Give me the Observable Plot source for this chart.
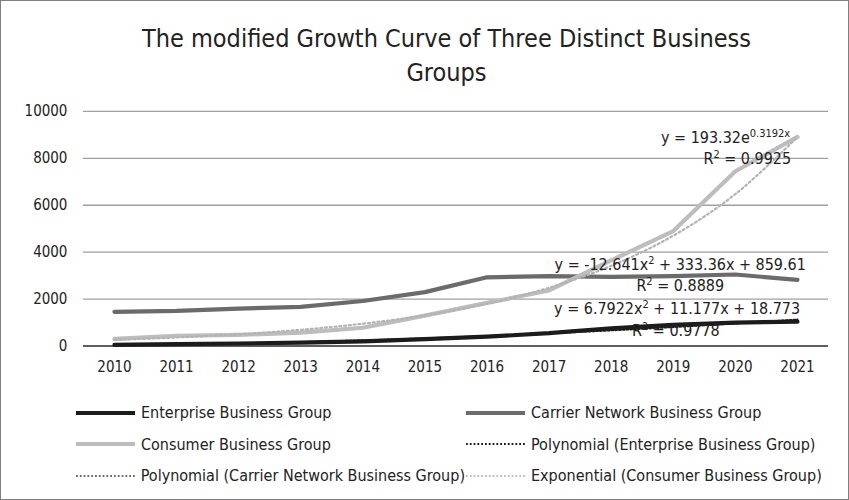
<!DOCTYPE html>
<html><head><meta charset="utf-8">
<script src="https://cdn.jsdelivr.net/npm/d3@7"></script>
<script src="https://cdn.jsdelivr.net/npm/@observablehq/plot@0.6"></script>
<style>
body{margin:0;background:#fff;}
#wrap{position:relative;width:849px;height:500px;box-sizing:border-box;border:1px solid #7f7f7f;font-family:"Liberation Sans Narrow","DejaVu Sans Condensed",Lato,sans-serif;overflow:hidden;background:#fff}
#title{position:absolute;left:22px;top:21px;width:847px;text-align:center;font-size:25px;line-height:34px;color:#222}
#chart{position:absolute;left:-1px;top:-1px}
#legend{position:absolute;left:74px;top:396px;display:grid;grid-template-columns:390px auto;grid-auto-rows:31.5px;font-size:16px;color:#222}
.item{display:flex;align-items:center;white-space:nowrap}
.item svg{margin-right:5px}
</style></head>
<body>
<div id="wrap">
  <div id="title">The modified Growth Curve of Three Distinct Business<br>Groups</div>
  <div id="chart"></div>
  <div id="legend"></div>
</div>
<script>
const years = [2010,2011,2012,2013,2014,2015,2016,2017,2018,2019,2020,2021];
const enterprise = [50,80,110,150,200,300,400,550,760,900,1000,1040];
const carrier = [1460,1500,1600,1670,1920,2300,2930,2980,2950,2980,3050,2820];
const consumer = [310,440,480,570,780,1300,1840,2370,3650,4900,7450,8910];
const yTicks = [0,2000,4000,6000,8000,10000];

// trendline coefficients as shown in the chart's equations (x = 1..12)
const polyEnterprise = [18.773, 11.177, 6.7922];
const polyCarrier = [859.61, 333.36, -12.641];
const expConsumer = [193.32, 0.3192];

const seriesNames = ["Enterprise Business Group","Carrier Network Business Group","Consumer Business Group"];
const seriesColors = ["#1c1c1c","#6b6b6b","#bdbdbd"];

const annYears = [2019.85, 2020.2, 2019.12, 2019.12, 2019.07, 2019.05];
const annValues = [8850, 7960, 3450, 2555, 1575, 640];
const annTexts = [
  [["y = 193.32e",0],["0.3192x",1]],
  [["R",0],["2",1],[" = 0.9925",0]],
  [["y = -12.641x",0],["2",1],[" + 333.36x + 859.61",0]],
  [["R",0],["2",1],[" = 0.8889",0]],
  [["y = 6.7922x",0],["2",1],[" + 11.177x + 18.773",0]],
  [["R",0],["2",1],[" = 0.9778",0]]
];

const long = [];
[enterprise, carrier, consumer].forEach((arr, i) =>
  arr.forEach((v, j) => long.push({series: seriesNames[i], year: years[j], value: v})));

const trendEnt = years.map((y, j) => {
  const x = j + 1;
  return {year: y, value: polyEnterprise[0] + polyEnterprise[1]*x + polyEnterprise[2]*x*x};
});
const trendCons = years.map((y, j) => {
  const x = j + 1;
  return {year: y, value: expConsumer[0] * Math.exp(expConsumer[1]*x)};
});

const font = "'Liberation Sans Narrow','DejaVu Sans Condensed',Lato,sans-serif";
const plot = Plot.plot({
  width: 849, height: 381,
  marginTop: 111, marginBottom: 35, marginLeft: 83, marginRight: 20,
  style: {fontFamily: font, fontSize: "15px", color: "#222", background: "transparent"},
  x: {domain: [2009.5, 2021.5], ticks: years, tickFormat: "d", tickSize: 0, tickPadding: 15, label: null},
  y: {domain: [0, 10000], ticks: yTicks, tickFormat: "d", tickSize: 0, tickPadding: 16, label: null},
  marks: [
    Plot.ruleY(yTicks.filter(d => d > 0), {stroke: "#a0a0a0", strokeWidth: 1.3}),
    Plot.ruleY([0], {stroke: "#2a2a2a", strokeWidth: 1.5}),
    Plot.lineY(long, {x: "year", y: "value", z: "series",
      stroke: d => seriesColors[seriesNames.indexOf(d.series)],
      strokeWidth: 4.2, strokeLinecap: "round", strokeLinejoin: "round", curve: "linear"}),
    Plot.lineY(trendEnt, {x: "year", y: "value", stroke: "#1c1c1c", strokeWidth: 2, strokeDasharray: "1.8,2", curve: "catmull-rom"}),
    Plot.lineY(trendCons, {x: "year", y: "value", stroke: "#b3b3b3", strokeWidth: 2.2, strokeDasharray: "2,2.8", curve: "catmull-rom"})
  ]
});
document.getElementById("chart").appendChild(plot);

// trendline equation labels, placed through the plot's own scales
const sx = plot.scale("x"), sy = plot.scale("y");
const g = d3.select(plot).append("g").attr("font-family", font).attr("font-size", 16).attr("fill", "#222");
annTexts.forEach((parts, i) => {
  const t = g.append("text")
    .attr("x", sx.apply(annYears[i]))
    .attr("y", sy.apply(annValues[i]))
    .attr("text-anchor", "middle")
    .attr("dy", "0.35em");
  parts.forEach(([s, sup]) => {
    const ts = t.append("tspan").text(s);
    if (sup) ts.attr("font-size", 11).attr("dy", "-0.55em");
    else if (t.selectAll("tspan").size() > 1) ts.attr("dy", "0.35em");
  });
});

// legend
const legendItems = [
  {label: "Enterprise Business Group", color: "#1c1c1c", dash: null},
  {label: "Carrier Network Business Group", color: "#6b6b6b", dash: null},
  {label: "Consumer Business Group", color: "#bdbdbd", dash: null},
  {label: "Polynomial (Enterprise Business Group)", color: "#1c1c1c", dash: "1.8,2"},
  {label: "Polynomial (Carrier Network Business Group)", color: "#6b6b6b", dash: "1.8,2"},
  {label: "Exponential (Consumer Business Group)", color: "#bdbdbd", dash: "1.8,2"}
];
const leg = d3.select("#legend");
legendItems.forEach(it => {
  const d = leg.append("div").attr("class", "item");
  const s = d.append("svg").attr("width", 61).attr("height", 10);
  s.append("line").attr("x1", 1).attr("x2", 60).attr("y1", 5).attr("y2", 5)
    .attr("stroke", it.color).attr("stroke-width", it.dash ? 2 : 4)
    .attr("stroke-dasharray", it.dash);
  d.append("span").text(it.label);
});
</script>
</body></html>
